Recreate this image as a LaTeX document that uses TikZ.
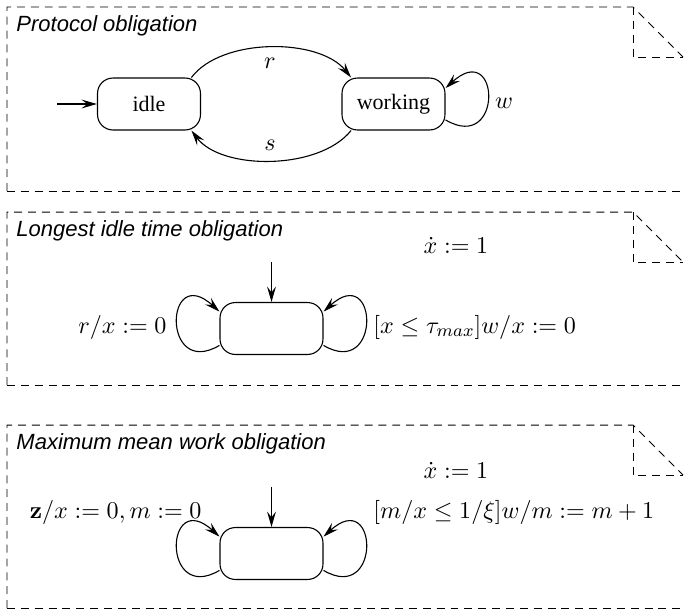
\documentclass[tikz,border=0pt]{standalone}
\usepackage[no-math]{fontspec}
\setmainfont{Liberation Serif}
\setsansfont{Liberation Sans}
\usepackage{amsmath,amssymb}
\usetikzlibrary{arrows.meta,positioning}

\begin{document}
\begin{tikzpicture}[
    x=0.4545pt, y=-0.4545pt,
    state/.style={rectangle, draw, rounded corners=7pt, minimum width=46.8pt, minimum height=23.6pt, inner sep=0pt, line width=0.5pt},
    arrow/.style={-{Stealth[length=7pt, width=4pt, inset=2.6pt]}, line width=0.5pt},
    frame/.style={dash pattern=on 3.6pt off 2.7pt, line width=0.45pt},
    title/.style={anchor=base west, inner sep=0pt, font=\sffamily\itshape},
    lbl/.style={inner sep=0pt, font=\fontsize{11.3}{13}\selectfont}
]
  \useasboundingbox (0,0) rectangle (685,610);

  % Note frames with folded corner
  \foreach \t/\b in {7/191, 212/385, 425/608} {
    \draw[frame] (7,\b) -- (7,\t) -- (633,\t) -- (683,\t+50);
    \draw[frame] (633,\t) -- (633,\t+50) -- (683,\t+50);
    \draw[frame] (7,\b) -- (685,\b);
  }

  % Protocol obligation
  \node[title] (t1) at (16,31) {Protocol obligation};
  \node[state] (idle) at (149,104) {idle};
  \node[state] (work) at (393.5,104) {working};
  \coordinate (start1) at (57,104);
  \draw[arrow] (start1) -- (idle);
  \draw[arrow] (idle.32) .. controls +(30,-40) and +(-32,-40) .. (work.148);
  \draw[arrow] (work.-148) .. controls +(-32,40) and +(30,40) .. (idle.-32);
  \draw[arrow] (work.-17) .. controls +(58,34) and +(55,-50) .. (work.17);
  \node[lbl] (r1) at (270,63) {$r$};
  \node[lbl] (s1) at (270,145) {$s$};
  \node[lbl] (w1) at (504,103) {$w$};

  % Longest idle time obligation
  \node[title] (t2) at (16,236) {Longest idle time obligation};
  \node[state] (idle2) at (271.5,328.5) {};
  \coordinate (start2) at (271.5,262);
  \draw[arrow] (start2) -- (idle2);
  \draw[arrow] (idle2.198) .. controls +(-58,34) and +(-55,-50) .. (idle2.162);
  \draw[arrow] (idle2.-18) .. controls +(58,34) and +(55,-50) .. (idle2.18);
  \node[lbl] (rate2) at (456,245) {$\dot{x} := 1$};
  \node[lbl, anchor=base east] (reset2) at (167,333) {$r/x := 0$};
  \node[lbl, anchor=base west] (guard2) at (373,333) {$[x \leq \tau_{max}]w/x := 0$};

  % Maximum mean work obligation
  \node[title] (t3) at (16,449) {Maximum mean work obligation};
  \node[state] (mean3) at (271.5,553.5) {};
  \coordinate (start3) at (271.5,487);
  \draw[arrow] (start3) -- (mean3);
  \draw[arrow] (mean3.198) .. controls +(-58,34) and +(-55,-50) .. (mean3.162);
  \draw[arrow] (mean3.-18) .. controls +(58,34) and +(55,-50) .. (mean3.18);
  \node[lbl] (rate3) at (456,470) {$\dot{x} := 1$};
  \node[lbl, anchor=base east] (reset3) at (202,518) {$\mathbf{z}/x := 0, m := 0$};
  \node[lbl, anchor=base west] (guard3) at (373,518) {$[m/x \leq 1/\xi]w/m := m+1$};
\end{tikzpicture}
\end{document}
